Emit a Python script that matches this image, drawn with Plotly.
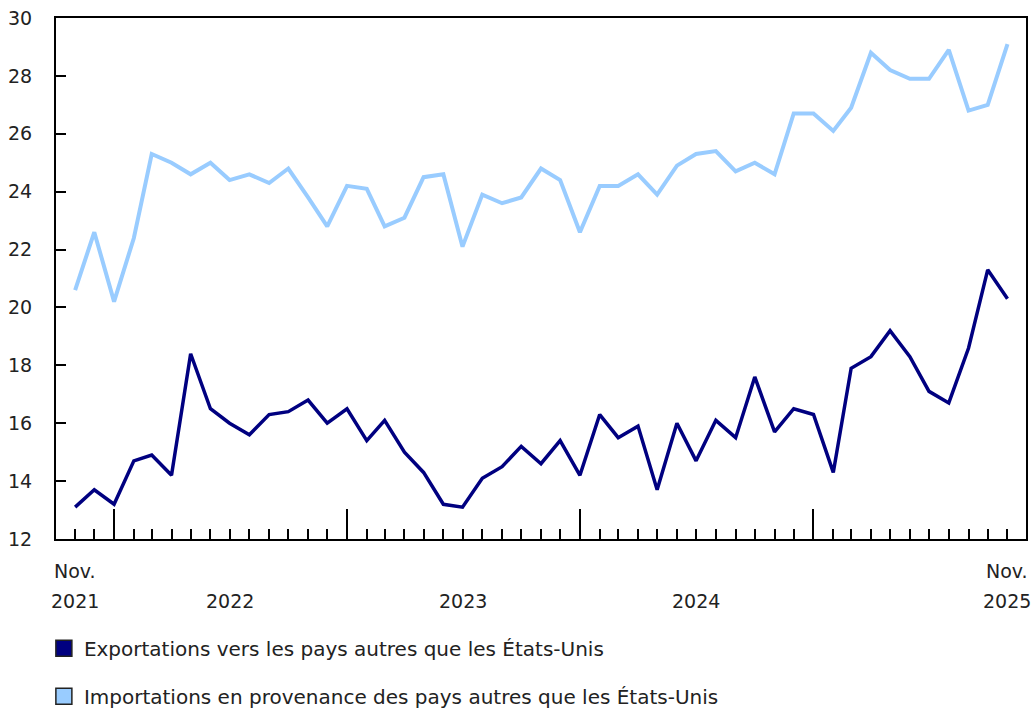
import plotly.graph_objects as go
import pandas as pd

months = pd.date_range("2021-11-01", "2025-11-01", freq="MS").strftime("%Y-%m-%d").tolist()

exports = [13.1, 13.7, 13.2, 14.7, 14.9, 14.2, 18.4, 16.5, 16.0, 15.6,
           16.3, 16.4, 16.8, 16.0, 16.5, 15.4, 16.1, 15.0, 14.3, 13.2,
           13.1, 14.1, 14.5, 15.2, 14.6, 15.4, 14.2, 16.3, 15.5, 15.9,
           13.7, 16.0, 14.7, 16.1, 15.5, 17.6, 15.7, 16.5, 16.3, 14.3,
           17.9, 18.3, 19.2, 18.3, 17.1, 16.7, 18.6, 21.3, 20.3]

imports = [20.6, 22.6, 20.2, 22.4, 25.3, 25.0, 24.6, 25.0, 24.4, 24.6,
           24.3, 24.8, 23.8, 22.8, 24.2, 24.1, 22.8, 23.1, 24.5, 24.6,
           22.1, 23.9, 23.6, 23.8, 24.8, 24.4, 22.6, 24.2, 24.2, 24.6,
           23.9, 24.9, 25.3, 25.4, 24.7, 25.0, 24.6, 26.7, 26.7, 26.1,
           26.9, 28.8, 28.2, 27.9, 27.9, 28.9, 26.8, 27.0, 29.1]

series_names = ["Exportations vers les pays autres que les États-Unis",
                "Importations en provenance des pays autres que les États-Unis"]
series_colors = ["#000080", "#99CCFF"]

label_dates = ["2021-11-01", "2022-07-01", "2023-07-01", "2024-07-01", "2025-11-01"]
label_months = ["Nov.", "", "", "", "Nov."]
label_years = ["2021", "2022", "2023", "2024", "2025"]

y_ticks = list(range(12, 31, 2))

FONT = "Verdana, DejaVu Sans, sans-serif"
TXT = "#222222"

fig = go.Figure()
for vals, name, color, w in [(exports, series_names[0], series_colors[0], 3.5),
                             (imports, series_names[1], series_colors[1], 4)]:
    fig.add_trace(go.Scatter(x=months, y=vals, mode="lines", name=name,
                             line=dict(color=color, width=w), showlegend=False))

for i, (name, color) in enumerate(zip(series_names, series_colors)):
    fig.add_trace(go.Scatter(x=[None], y=[None], mode="markers", name=name,
                             legendgroup=f"g{i}",
                             marker=dict(symbol="square", size=16, color=color,
                                         line=dict(color="#222222", width=1.5))))

annotations = []
for d, m, yr in zip(label_dates, label_months, label_years):
    if m:
        annotations.append(dict(x=d, y=0, xref="x", yref="paper", text=m,
                                showarrow=False, yanchor="middle", yshift=-32,
                                font=dict(family=FONT, size=19, color=TXT)))
    annotations.append(dict(x=d, y=0, xref="x", yref="paper", text=yr,
                            showarrow=False, yanchor="middle", yshift=-62,
                            font=dict(family=FONT, size=19, color=TXT)))

fig.update_layout(
    width=1035, height=711,
    margin=dict(l=56, r=9, t=18, b=172, autoexpand=False),
    paper_bgcolor="white", plot_bgcolor="white",
    font=dict(family=FONT, size=19, color=TXT),
    xaxis=dict(
        type="date",
        range=["2021-10-02", "2025-11-30"],
        tick0="2022-01-01", dtick="M12",
        ticks="inside", ticklen=30, tickwidth=1.5, tickcolor="black",
        showticklabels=False, showgrid=False, zeroline=False,
        showline=True, linecolor="black", linewidth=2, mirror=True,
        minor=dict(tick0="2021-11-01", dtick="M1", ticks="inside", ticklen=10,
                   tickwidth=1.5, tickcolor="black", showgrid=False),
    ),
    yaxis=dict(
        range=[12, 30], tickvals=y_ticks,
        ticks="inside", ticklen=10, tickwidth=1.5, tickcolor="black",
        ticklabelstandoff=18,
        showgrid=False, zeroline=False,
        showline=True, linecolor="black", linewidth=2, mirror=True,
        tickfont=dict(family=FONT, size=19, color=TXT),
    ),
    legend=dict(
        orientation="v", x=-0.0125, xanchor="left", y=-0.1722, yanchor="top",
        traceorder="grouped", tracegroupgap=19,
        font=dict(family=FONT, size=20, color=TXT),
        bgcolor="rgba(0,0,0,0)",
    ),
    annotations=annotations,
    hovermode=False,
)

fig.write_html("out.html", config={"displayModeBar": False},
               post_script="document.body.style.margin='0';")
